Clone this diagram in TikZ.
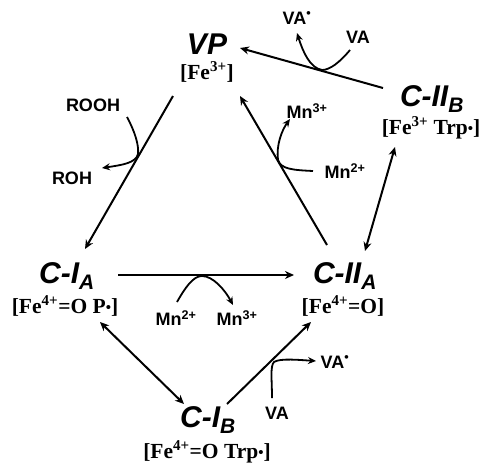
\documentclass[tikz,border=0pt]{standalone}
\usepackage{fontspec}
\setmainfont{Liberation Serif}
\setsansfont{Liberation Sans}
\usetikzlibrary{arrows.meta}
\newcommand{\rdot}{{\fontsize{15}{15}\selectfont\raisebox{0.12ex}{\textbullet}}}
\begin{document}
\begin{tikzpicture}[x=1pt,y=-1pt,
  title/.style={font=\sffamily\bfseries\itshape\fontsize{30}{32}\selectfont, inner sep=0pt},
  state/.style={font=\bfseries\fontsize{21.5}{24}\selectfont, inner sep=0pt},
  lab/.style={font=\sffamily\bfseries\fontsize{18}{20}\selectfont, inner sep=0pt},
  conn/.style={line width=2pt, -{Stealth[length=9pt,width=8pt]}},
  dconn/.style={line width=2pt, {Stealth[length=9pt,width=8pt]}-{Stealth[length=9pt,width=8pt]}},
  side/.style={line width=1.8pt, -{Stealth[length=8pt,width=7pt]}}]
\useasboundingbox (0,0) rectangle (482,466);
% states
\node[title] (vp) at (207,44) {VP};
\node[state] (vpfe) at (207,72) {[Fe\textsuperscript{3+}]};
\node[title] (ciib) at (432,99) {C-II\textsubscript{B}};
\node[state] (ciibfe) at (431,128) {[Fe\textsuperscript{3+} Trp\rdot]};
\node[title] (cia) at (67,276) {C-I\textsubscript{A}};
\node[state] (ciafe) at (65,306) {[Fe\textsuperscript{4+}=O P\rdot]};
\node[title] (ciia) at (345,276) {C-II\textsubscript{A}};
\node[state] (ciiafe) at (343,306) {[Fe\textsuperscript{4+}=O]};
\node[title] (cib) at (208,420) {C-I\textsubscript{B}};
\node[state] (cibfe) at (207,452) {[Fe\textsuperscript{4+}=O Trp\rdot]};
% labels
\node[lab] (rooh) at (93,105) {ROOH};
\node[lab] (roh) at (72,178) {ROH};
\node[lab] (mn3a) at (307,111) {Mn\textsuperscript{3+}};
\node[lab] (mn2a) at (345,171) {Mn\textsuperscript{2+}};
\node[lab] (vardt) at (297,18) {VA\textsuperscript{\textbullet}};
\node[lab] (vat) at (358,37) {VA};
\node[lab] (mn2b) at (176,318) {Mn\textsuperscript{2+}};
\node[lab] (mn3b) at (237,318) {Mn\textsuperscript{3+}};
\node[lab] (vab) at (277,413) {VA};
\node[lab] (vardb) at (335,362) {VA\textsuperscript{\textbullet}};
% connector end points
\coordinate (a1) at (173,96);  \coordinate (b1) at (85,249);
\coordinate (a2) at (327,245); \coordinate (b2) at (240,96);
\coordinate (a3) at (365,251); \coordinate (b3) at (395,147);
\coordinate (a4) at (383,88);  \coordinate (b4) at (240,48);
\coordinate (a5) at (118,275); \coordinate (b5) at (294,275);
\coordinate (a6) at (100,322); \coordinate (b6) at (184,404);
\coordinate (a7) at (227,404); \coordinate (b7) at (311,322);
% main connectors
\draw[conn] (a1) -- (b1);
\draw[conn] (a2) -- (b2);
\draw[dconn] (a3) -- (b3);
\draw[conn] (a4) -- (b4);
\draw[conn] (a5) -- (b5);
\draw[dconn] (a6) -- (b6);
\draw[conn] (a7) -- (b7);
% side reactions
\coordinate (s1) at (127,117); \coordinate (e1) at (102,168);
\draw[side] (s1) .. controls (135,132) and (139,145) .. (138,154)
  .. controls (136,163) and (122,165) .. (e1);
\coordinate (s2) at (313,171); \coordinate (e2) at (290,119);
\draw[side] (s2) .. controls (292,170) and (281,169) .. (278,160)
  .. controls (276,145) and (282,130) .. (e2);
\coordinate (s3) at (350,50); \coordinate (e3) at (297,33);
\draw[side] (s3) .. controls (340,62) and (330,70) .. (322,70)
  .. controls (310,68) and (303,52) .. (e3);
\coordinate (s4) at (177,302); \coordinate (e4) at (233,305);
\draw[side] (s4) .. controls (185,288) and (193,276) .. (202,276)
  .. controls (213,276) and (225,290) .. (e4);
\coordinate (s5) at (272,398); \coordinate (e5) at (316,361);
\draw[side] (s5) .. controls (272,380) and (270,366) .. (274,362)
  .. controls (280,358) and (300,360) .. (e5);
\end{tikzpicture}
\end{document}
